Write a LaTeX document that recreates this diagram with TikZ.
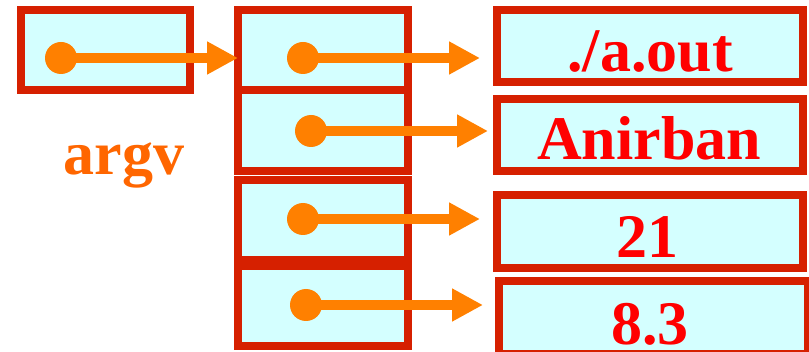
\documentclass[tikz,border=0pt]{standalone}
\usepackage{fontspec}
\setmainfont{Liberation Serif}
\usetikzlibrary{arrows.meta}
\definecolor{boxred}{RGB}{214,32,0}
\definecolor{boxfill}{RGB}{212,255,255}
\definecolor{arrorange}{RGB}{255,128,0}
\definecolor{labelorange}{RGB}{255,102,0}
\definecolor{txtred}{RGB}{255,0,0}
\tikzset{
  cell/.style={draw=boxred, fill=boxfill, line width=8pt, rectangle, inner sep=0pt, outer sep=0pt},
  dot/.style={circle, fill=arrorange, inner sep=0pt, minimum size=32pt},
  ptr/.style={draw=arrorange, line width=10pt, -{Triangle[length=31pt,width=31pt]}},
  val/.style={text=txtred, font=\bfseries\fontsize{62}{70}\selectfont, anchor=base, inner sep=0pt},
}
\begin{document}
\begin{tikzpicture}[x=1pt,y=1pt]
\useasboundingbox (0,0) rectangle (809,351);
% argv pointer cell
\node[cell, minimum width=169pt, minimum height=80pt] (argvbox) at (105.5,301) {};
% array of pointers
\node[cell, minimum width=170pt, minimum height=80pt] (ca) at (323,301) {};
\node[cell, minimum width=170pt, minimum height=81pt] (cb) at (323,220.5) {};
\node[cell, minimum width=170pt, minimum height=80pt] (cc) at (323,131) {};
\node[cell, minimum width=170pt, minimum height=80pt] (cd) at (323,45) {};
% strings
\node[cell, minimum width=306pt, minimum height=72pt] (ra) at (650,305) {};
\node[cell, minimum width=306pt, minimum height=72pt] (rb) at (650,216) {};
\node[cell, minimum width=306pt, minimum height=73pt] (rc) at (650,119.5) {};
\node[cell, minimum width=309pt, minimum height=73pt] (rd) at (653.5,33.5) {};
\node[val] (ta) at (650,279) {./a.out};
\node[val] (tb) at (649,191) {Anirban};
\node[val] (tc) at (647,93) {21};
\node[val] (td) at (650,6) {8.3};
% label
\node[text=labelorange, font=\bfseries\fontsize{62}{70}\selectfont, anchor=base, inner sep=0pt] (lbl) at (124,176) {argv};
% dot centres
\coordinate (p0) at (61,293);
\coordinate (pa) at (303,293);
\coordinate (pb) at (311,220);
\coordinate (pc) at (303,132);
\coordinate (pd) at (306,46);
% pointers
\draw[ptr] (p0) -- (p0 -| ca.west);
\draw[ptr, shorten >=17pt] (pa) -- (pa -| ra.west);
\draw[ptr, shorten >=9pt] (pb) -- (pb -| rb.west);
\draw[ptr, shorten >=17pt] (pc) -- (pc -| rc.west);
\draw[ptr, shorten >=16pt] (pd) -- (pd -| rd.west);
% dots
\node[dot] (d0) at (p0) {};
\node[dot] (da) at (pa) {};
\node[dot] (db) at (pb) {};
\node[dot] (dc) at (pc) {};
\node[dot] (dd) at (pd) {};
\end{tikzpicture}
\end{document}
